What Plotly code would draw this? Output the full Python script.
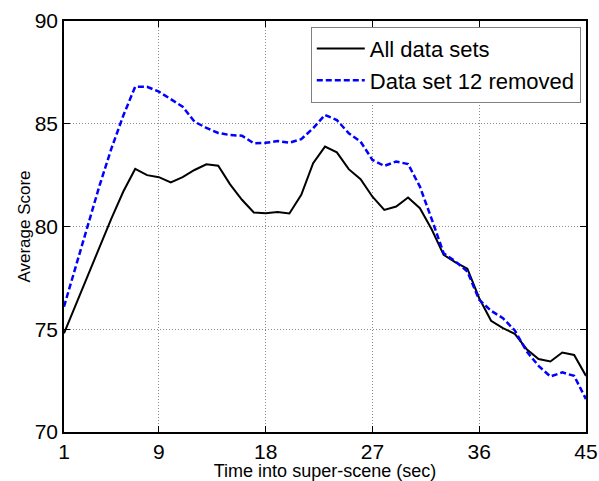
import plotly.graph_objects as go

time_sec = list(range(1, 46))

all_data_sets = [
    74.8, 76.2, 77.6, 79.0, 80.4, 81.7, 82.8, 82.5, 82.4, 82.15,
    82.4, 82.75, 83.03, 82.96, 82.05, 81.3, 80.68, 80.65, 80.7, 80.63,
    81.54, 83.08, 83.89, 83.61, 82.79, 82.3, 81.45, 80.81, 80.97, 81.41,
    80.89, 79.85, 78.62, 78.25, 77.95, 76.51, 75.41, 75.05, 74.78, 74.03,
    73.55, 73.43, 73.87, 73.75, 72.73,
]

set12_removed = [
    76.1, 78.1, 80.1, 82.0, 83.8, 85.4, 86.8, 86.8, 86.56, 86.19,
    85.83, 85.1, 84.8, 84.55, 84.45, 84.42, 84.05, 84.07, 84.16, 84.08,
    84.25, 84.78, 85.43, 85.18, 84.54, 84.13, 83.24, 82.95, 83.16, 83.04,
    81.94, 80.35, 78.7, 78.3, 77.81, 76.43, 75.9, 75.54, 74.94, 73.92,
    73.22, 72.7, 72.9, 72.73, 71.6,
]

x_ticks = [1, 9, 18, 27, 36, 45]
y_ticks = [70, 75, 80, 85, 90]

FONT = "Liberation Sans, Arial, sans-serif"

fig = go.Figure()
fig.add_trace(go.Scatter(
    x=time_sec, y=all_data_sets, mode="lines", name="All data sets",
    line=dict(color="black", width=2),
))
fig.add_trace(go.Scatter(
    x=time_sec, y=set12_removed, mode="lines", name="Data set 12 removed",
    line=dict(color="#0000ff", width=2.5, dash="6px,3px"),
))

axis_common = dict(
    showline=True, linecolor="black", linewidth=1.5, mirror="ticks",
    ticks="inside", ticklen=6, tickcolor="black", tickwidth=1,
    showgrid=True, gridcolor="#8c8c8c", griddash="1px,2px", gridwidth=1,
    zeroline=False, automargin=False,
    tickfont=dict(family=FONT, size=21, color="black"),
)

fig.update_layout(
    width=599, height=481,
    margin=dict(l=64, r=13, t=21, b=49),
    paper_bgcolor="white", plot_bgcolor="white",
    font=dict(family=FONT, color="black"),
    xaxis=dict(
        range=[1, 45], tickmode="array", tickvals=x_ticks,
        ticktext=[str(v) for v in x_ticks],
        title=dict(text="Time into super-scene (sec)", font=dict(size=18), standoff=0),
        **axis_common,
    ),
    yaxis=dict(
        range=[70, 90], tickmode="array", tickvals=y_ticks,
        ticktext=[str(v) for v in y_ticks],
        title=dict(text="Average Score", font=dict(size=17), standoff=0),
        **axis_common,
    ),
    legend=dict(
        x=0.99, y=0.986, xanchor="right", yanchor="top",
        bgcolor="white", bordercolor="#808080", borderwidth=1,
        font=dict(family=FONT, size=22, color="black"),
        tracegroupgap=0, itemwidth=48,
    ),
    showlegend=True,
)

fig.write_html(
    "out.html",
    config={"displayModeBar": False},
    post_script="document.body.style.margin='0';document.body.style.overflow='hidden';",
)
